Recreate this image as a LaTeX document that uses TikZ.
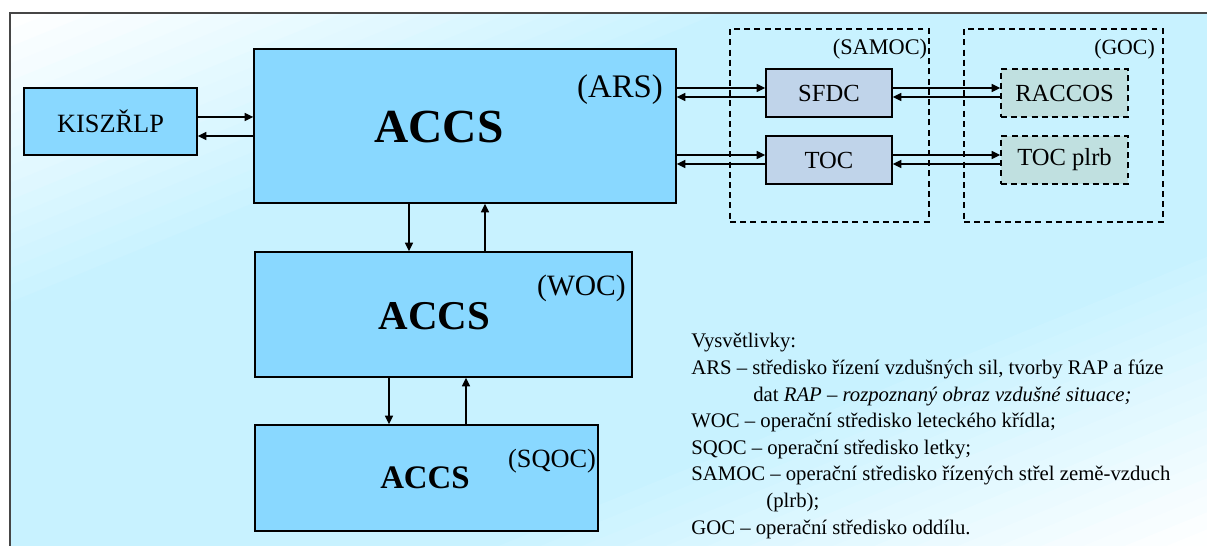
\documentclass[tikz,border=0pt]{standalone}
\usepackage{fontspec}
\setmainfont{LiberationSerif-Regular.ttf}[
  BoldFont=LiberationSerif-Bold.ttf,
  ItalicFont=LiberationSerif-Italic.ttf]
\usetikzlibrary{arrows.meta, positioning}

\definecolor{accsblue}{RGB}{137,216,255}
\definecolor{samocfill}{RGB}{192,212,234}
\definecolor{gocfill}{RGB}{192,224,224}
\definecolor{bgcyan}{RGB}{200,242,255}
\definecolor{framegray}{RGB}{70,70,70}

\tikzset{
  accsbox/.style={draw, line width=0.8pt, fill=accsblue, inner sep=0pt},
  unitbox/.style={draw, line width=0.8pt, fill=samocfill, inner sep=0pt,
    minimum width=2.52cm, minimum height=0.96cm},
  gocunit/.style={draw, dash pattern=on 3.4pt off 2.4pt, line width=0.8pt,
    fill=gocfill, inner sep=0pt, minimum width=2.54cm, minimum height=0.96cm},
  groupbox/.style={draw, dash pattern=on 3.4pt off 2.4pt, line width=0.8pt,
    inner sep=0pt, minimum width=3.98cm, minimum height=3.86cm},
  link/.style={-{Triangle[length=5pt,width=4.6pt]}, line width=0.8pt},
  legend/.style={anchor=base west, inner sep=0pt, font=\fontsize{11.8}{13}\selectfont}
}

\begin{document}
\begin{tikzpicture}[x=0.02cm, y=-0.02cm]
\clip (0,0) rectangle (1207,546);
\fill[white] (0,0) rectangle (1207,546);
%background, white - cyan - white across the diagonal
\begin{scope}
\clip (10,13) rectangle (1230,570);
\begin{scope}[shift={(608.5,279.5)}, rotate=22.2]
\foreach \i in {0,...,59}{
  \pgfmathtruncatemacro{\mix}{min(100,170*(1-abs(2*(\i+0.5)/60-1)))}
  \fill[bgcyan!\mix!white] (-1300,-473+\i*15.77) rectangle (1300,-473+\i*15.77+16.6);
}
\end{scope}
\end{scope}
\draw[framegray, line width=0.8pt] (10,13) rectangle (1230,570);

%boxes
\node[accsbox, minimum width=3.46cm, minimum height=1.34cm, font=\fontsize{15}{18}\selectfont]
  (kis) at (110.5,121.5) {KISZŘLP};
\node[accsbox, minimum width=8.44cm, minimum height=3.08cm] (ars) at (465,126) {};
\node[accsbox, minimum width=7.54cm, minimum height=2.5cm] (woc) at (443.5,314.5) {};
\node[accsbox, minimum width=6.86cm, minimum height=2.12cm] (sqoc) at (426.5,478) {};
\node[font=\bfseries\fontsize{27}{30}\selectfont] (arslbl) at (439,127) {ACCS};
\node[font=\bfseries\fontsize{23.3}{26}\selectfont] (woclbl) at (434.5,316) {ACCS};
\node[font=\bfseries\fontsize{18.7}{21}\selectfont] (sqoclbl) at (425,478) {ACCS};
\node[font=\fontsize{18.7}{21}\selectfont] (arstag) at (620,90) {(ARS)};
\node[font=\fontsize{16.8}{19}\selectfont] (woctag) at (581.5,288) {(WOC)};
\node[font=\fontsize{15}{17}\selectfont] (sqoctag) at (552,461) {(SQOC)};

%samoc and goc
\node[groupbox] (samoc) at (829.5,125.5) {};
\node[groupbox] (goc) at (1063.5,125.5) {};
\node[font=\fontsize{12.7}{14}\selectfont] (samoctag) at (880,49) {(SAMOC)};
\node[font=\fontsize{12.4}{14}\selectfont] (goctag) at (1124.5,49) {(GOC)};
\node[unitbox, font=\fontsize{14}{16}\selectfont] (sfdc) at (829,93) {SFDC};
\node[unitbox, font=\fontsize{14}{16}\selectfont] (toc) at (829,160) {TOC};
\node[gocunit, font=\fontsize{14}{16}\selectfont] (raccos) at (1064.5,93) {RACCOS};
\node[gocunit, font=\fontsize{14}{16}\selectfont] (tocplrb) at (1064.5,160) {TOC plrb};

%arrows
\draw[link] (kis.east |- 0,117) -- (ars.west |- 0,117);
\draw[link] (ars.west |- 0,136) -- (kis.east |- 0,136);
\draw[link] (ars.east |- 0,88) -- (sfdc.west |- 0,88);
\draw[link] (sfdc.west |- 0,97) -- (ars.east |- 0,97);
\draw[link] (ars.east |- 0,155) -- (toc.west |- 0,155);
\draw[link] (toc.west |- 0,164) -- (ars.east |- 0,164);
\draw[link] (sfdc.east |- 0,88) -- (raccos.west |- 0,88);
\draw[link] (raccos.west |- 0,97) -- (sfdc.east |- 0,97);
\draw[link] (toc.east |- 0,155) -- (tocplrb.west |- 0,155);
\draw[link] (tocplrb.west |- 0,164) -- (toc.east |- 0,164);
\draw[link] (ars.south -| 409,0) -- (woc.north -| 409,0);
\draw[link] (woc.north -| 485,0) -- (ars.south -| 485,0);
\draw[link] (woc.south -| 389,0) -- (sqoc.north -| 389,0);
\draw[link] (sqoc.north -| 466,0) -- (woc.south -| 466,0);

%legend
\node[legend] (leg1) at (691,348) {Vysvětlivky:};
\node[legend] (leg2) at (691,374.6) {ARS – středisko řízení vzdušných sil, tvorby RAP a fúze};
\node[legend] (leg3) at (753,401.2) {dat \textit{RAP – rozpoznaný obraz vzdušné situace;}};
\node[legend] (leg4) at (691,427.8) {WOC – operační středisko leteckého křídla;};
\node[legend] (leg5) at (691,454.4) {SQOC – operační středisko letky;};
\node[legend] (leg6) at (691,481) {SAMOC – operační středisko řízených střel země-vzduch};
\node[legend] (leg7) at (766,507.6) {(plrb);};
\node[legend] (leg8) at (691,534.2) {GOC – operační středisko oddílu.};
\end{tikzpicture}
\end{document}
